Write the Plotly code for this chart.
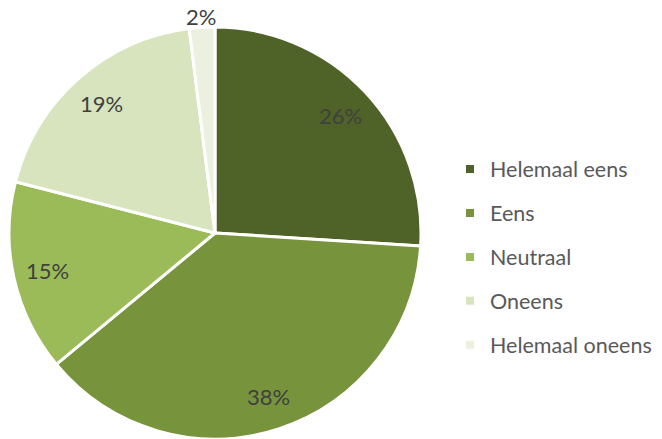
import math
import plotly.graph_objects as go

labels = ["Helemaal eens", "Eens", "Neutraal", "Oneens", "Helemaal oneens"]
values = [26, 38, 15, 19, 2]
colors = ["#4F6228", "#77933C", "#9BBB59", "#D7E4BD", "#EBF1DE"]

W, H = 662, 439
CX, CY = 215, 233   # pie centre in px (from top-left)
R = 206             # pie radius in px

fig = go.Figure()
fig.add_trace(go.Pie(
    labels=labels, values=values, sort=False, direction="clockwise", rotation=0,
    marker=dict(colors=colors, line=dict(color="white", width=3)),
    textinfo="none", hoverinfo="label+percent", showlegend=False,
    domain=dict(x=[(CX - R) / W, (CX + R) / W], y=[0, (H - CY + R) / H]),
))

# legend entries
for lab, col in zip(labels, colors):
    fig.add_trace(go.Scatter(
        x=[None], y=[None], mode="markers", name=lab, legendgroup=lab,
        marker=dict(symbol="square", size=8, color=col), hoverinfo="skip",
    ))

# percentage labels placed from the data's cumulative angles
total = sum(values)
cum = 0
annotations = []
for v in values:
    mid = (cum + v / 2) / total * 2 * math.pi
    cum += v
    frac = v / total
    r = R * 0.835 if frac >= 0.05 else R + 11
    px = CX + r * math.sin(mid)
    py = CY - r * math.cos(mid)
    annotations.append(dict(
        x=px / W, y=1 - py / H, xref="paper", yref="paper",
        text=f"{round(frac * 100)}%", showarrow=False,
        font=dict(family="Lato", size=22, color="#404040"),
        xanchor="center", yanchor="middle",
    ))

fig.update_layout(
    width=W, height=H, margin=dict(l=0, r=0, t=0, b=0),
    paper_bgcolor="white", plot_bgcolor="white",
    xaxis=dict(visible=False), yaxis=dict(visible=False),
    annotations=annotations,
    legend=dict(
        x=450 / W, y=1 - 257 / H, xanchor="left", yanchor="middle",
        font=dict(family="Lato", size=21.5, color="#595959"),
        tracegroupgap=13, itemclick=False,
    ),
)

fig.write_html("out.html", config={"displayModeBar": False},
               post_script="document.body.style.margin='0';document.body.style.overflow='hidden';")
